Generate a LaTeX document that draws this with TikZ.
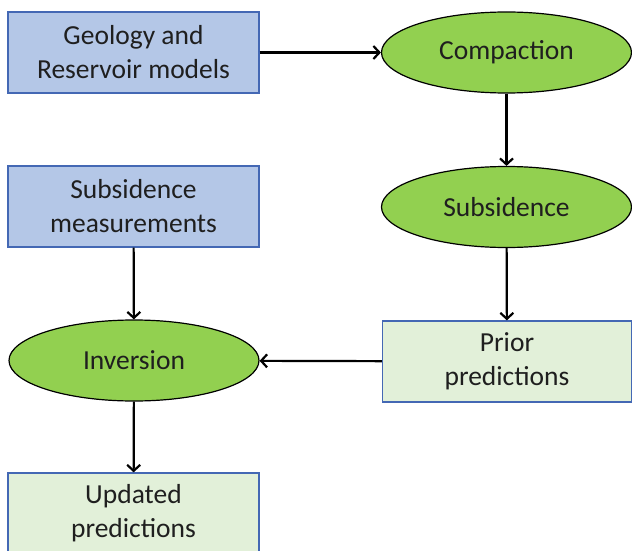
\documentclass[tikz,border=0pt]{standalone}
\usepackage{fontspec}
\setmainfont{Carlito}
\usetikzlibrary{arrows.meta,shapes.geometric}

\definecolor{inbox}{RGB}{180,199,231}
\definecolor{outbox}{RGB}{226,240,217}
\definecolor{procfill}{RGB}{146,208,80}
\definecolor{boxline}{RGB}{68,104,180}

\tikzset{
  datain/.style={draw=boxline,fill=inbox,line width=1.3pt,minimum width=251pt,minimum height=81pt,align=center,inner sep=0pt},
  dataout/.style={draw=boxline,fill=outbox,line width=1.3pt,minimum width=249pt,minimum height=81pt,align=center,inner sep=0pt},
  process/.style={ellipse,draw=black,fill=procfill,line width=1.2pt,minimum width=250pt,minimum height=81pt,inner sep=0pt},
  flow/.style={->,line width=2.2pt}
}

\begin{document}
\begin{tikzpicture}[>={Straight Barb[length=6pt,width=13pt]},x=1pt,y=1pt,
    font=\fontsize{27.5}{34}\selectfont,text=black!88]
  \useasboundingbox (0,0) rectangle (632,-551);
  \node[datain] (geo) at (133.5,-52.5) {Geology and\\Reservoir models};
  \node[process] (comp) at (506.5,-52.5) {Compaction};
  \node[process] (subs) at (506.5,-207) {Subsidence};
  \node[datain] (meas) at (133.5,-206.5) {Subsidence\\measurements};
  \node[process] (inv) at (134,-360.5) {Inversion};
  \node[dataout] (prior) at (507,-361.5) {Prior\\predictions};
  \node[dataout,minimum width=251pt] (upd) at (133.5,-513.5) {Updated\\predictions};
  \draw[flow] (geo) -- (comp);
  \draw[flow] (comp) -- (subs);
  \draw[flow] (subs) -- (prior);
  \draw[flow] (meas) -- (inv);
  \draw[flow] (prior) -- (inv);
  \draw[flow] (inv) -- (upd);
\end{tikzpicture}
\end{document}
